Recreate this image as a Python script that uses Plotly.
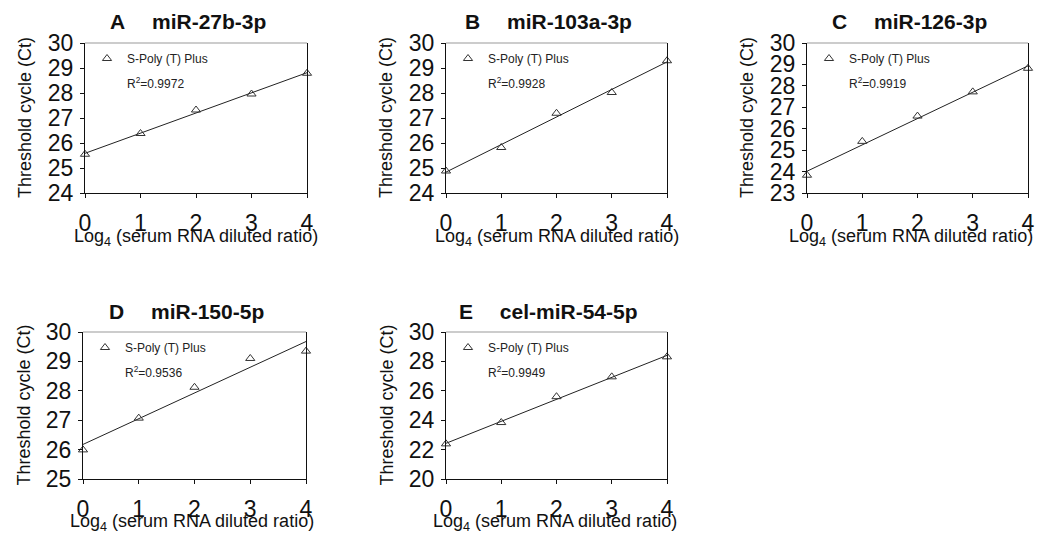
import numpy as np
import plotly.graph_objects as go

# ---------------- data ----------------
dilution_log4 = [0, 1, 2, 3, 4]
panel_letters = ["A", "B", "C", "D", "E"]
mirna_names = ["miR-27b-3p", "miR-103a-3p", "miR-126-3p", "miR-150-5p", "cel-miR-54-5p"]
ct_A = [25.55, 26.38, 27.32, 27.96, 28.79]
ct_B = [24.88, 25.82, 27.19, 28.02, 29.29]
ct_C = [23.83, 25.41, 26.59, 27.72, 28.82]
ct_D = [25.99, 27.07, 28.12, 29.10, 29.35]
ct_E = [22.39, 23.84, 25.60, 26.95, 28.31]
r2_labels = ["0.9972", "0.9928", "0.9919", "0.9536", "0.9949"]
y_ranges = [[24, 30], [24, 30], [23, 30], [25, 30], [20, 30]]
y_dticks = [1, 1, 1, 1, 2]
x_ticks = [0, 1, 2, 3, 4]
legend_label = "S-Poly (T) Plus"
y_title = "Threshold cycle (Ct)"
x_title = "Log<sub>4</sub> (serum RNA diluted ratio)"

series = [ct_A, ct_B, ct_C, ct_D, ct_E]

# ---------------- layout (pixel boxes, in window coordinates) ----------------
OFF = 8                      # page body margin
W, H = 1043 - 2 * OFF, 541 - 2 * OFF
boxes = [  # left, right, top, bottom in window px
    (85, 307, 43, 193),
    (446, 667, 43, 193),
    (807, 1028, 43, 193),
    (83, 306, 332, 479),
    (446, 667, 332, 479),
]
xtitle_shift = [0, 0, -7, -3, -2]
xtitle_drop = [44, 44, 44, 43, 43]

FONT = "Arial, Liberation Sans, sans-serif"
fig = go.Figure()
layout = dict(
    width=W, height=H, margin=dict(l=0, r=0, t=0, b=0, autoexpand=False),
    plot_bgcolor="white", paper_bgcolor="white",
    font=dict(family=FONT, color="#111"),
    annotations=[], shapes=[],
)

for i, (ys, box) in enumerate(zip(series, boxes)):
    n = "" if i == 0 else str(i + 1)
    xa, ya = "x" + n, "y" + n
    lg = "legend" + n
    l, r, t, b = (v - OFF for v in box)
    # fitted trend line from data
    slope, icpt = np.polyfit(dilution_log4, ys, 1)
    xfit = [min(dilution_log4), max(dilution_log4)]
    yfit = [icpt + slope * v for v in xfit]
    fig.add_trace(go.Scatter(x=xfit, y=yfit, mode="lines", xaxis=xa, yaxis=ya,
                             line=dict(color="#222", width=1), showlegend=False,
                             hoverinfo="skip"))
    fig.add_trace(go.Scatter(x=dilution_log4, y=ys, mode="markers", xaxis=xa, yaxis=ya,
                             name=legend_label, legend=lg, cliponaxis=False,
                             marker=dict(symbol="triangle-up-open", size=8,
                                         color="#333", line=dict(width=1, color="#333"))))
    layout["xaxis" + n] = dict(
        domain=[l / W, r / W], anchor=ya, range=[0, 4], tickvals=x_ticks,
        showgrid=False, zeroline=False, showline=True, linecolor="#111", linewidth=1,
        ticks="outside", ticklen=4, tickcolor="#111", automargin=False,
        ticklabelstandoff=5,
        tickfont=dict(size=23, family=FONT, color="#111"), fixedrange=True,
    )
    layout["yaxis" + n] = dict(
        domain=[1 - b / H, 1 - t / H], anchor=xa, range=y_ranges[i],
        tickmode="linear", tick0=y_ranges[i][0], dtick=y_dticks[i],
        showgrid=False, zeroline=False, showline=True, linecolor="#111", linewidth=1,
        mirror=True, ticks="outside", ticklen=4, tickcolor="#111", automargin=False,
        ticklabelstandoff=2,
        tickfont=dict(size=23, family=FONT, color="#111"), fixedrange=True,
    )
    layout[lg] = dict(
        x=(l + 2) / W, y=1 - (t + 1) / H, xanchor="left", yanchor="top",
        bgcolor="rgba(0,0,0,0)", borderwidth=0,
        font=dict(size=12, family=FONT, color="#222"),
    )
    # top border (lighter)
    layout["shapes"].append(dict(type="line", xref=xa + " domain", yref=ya + " domain",
                                 x0=0, x1=1, y0=1, y1=1,
                                 line=dict(color="#999", width=1)))
    # panel title
    layout["annotations"].append(dict(
        xref=xa + " domain", yref=ya + " domain", x=0.465, y=1, yshift=21,
        xanchor="center", yanchor="middle", showarrow=False,
        text="<b>" + panel_letters[i] + "\u2003 " + mirna_names[i] + "</b>",
        font=dict(size=21, family=FONT, color="#111")))
    # R^2
    layout["annotations"].append(dict(
        xref=xa + " domain", yref=ya + " domain", x=0, y=1, xshift=40, yshift=-40,
        xanchor="left", yanchor="middle", showarrow=False,
        text="R<sup>2</sup>=" + r2_labels[i],
        font=dict(size=12, family=FONT, color="#222")))
    # axis titles
    layout["annotations"].append(dict(
        xref=xa + " domain", yref=ya + " domain", x=0.5, y=0,
        xshift=xtitle_shift[i], yshift=-xtitle_drop[i], borderpad=0,
        xanchor="center", yanchor="middle", showarrow=False, text=x_title,
        font=dict(size=18, family=FONT, color="#111")))
    layout["annotations"].append(dict(
        xref=xa + " domain", yref=ya + " domain", x=0, y=0.5, xshift=-60,
        xanchor="center", yanchor="middle", showarrow=False, text=y_title,
        textangle=-90, font=dict(size=18, family=FONT, color="#111")))

fig.update_layout(**layout)
fig.write_html("out.html")
